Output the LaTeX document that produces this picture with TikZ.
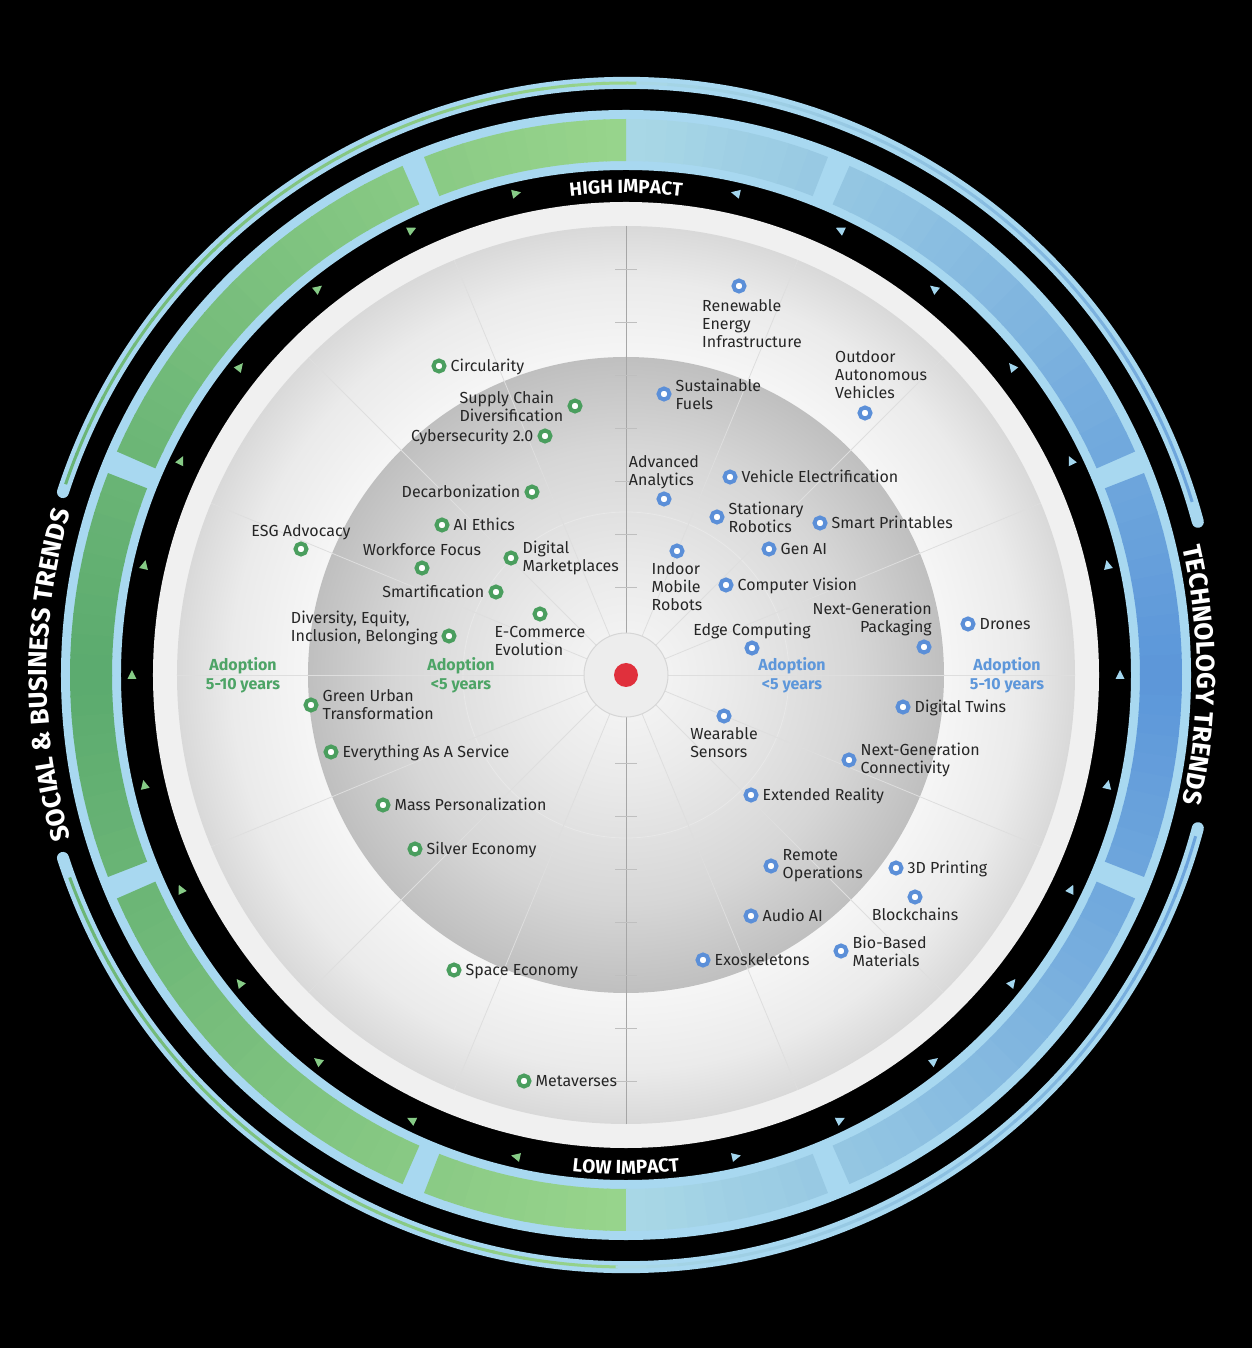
\documentclass[tikz,border=0pt]{standalone}
\usepackage{fontspec}
\setmainfont{Fira Sans}
\usetikzlibrary{positioning,decorations.text}

\definecolor{dkgreen}{HTML}{5BAA6E}
\definecolor{ltgreen}{HTML}{98D48C}
\definecolor{dkblue}{HTML}{5B96D9}
\definecolor{ltblue}{HTML}{A9D8E6}
\definecolor{rim}{HTML}{A8D8F0}
\definecolor{markgreen}{HTML}{4A9E5E}
\definecolor{markblue}{HTML}{5B8FD8}
\definecolor{adgreen}{HTML}{4DA466}
\definecolor{adblue}{HTML}{5E97DA}
\definecolor{trigreen}{HTML}{86CB86}
\definecolor{triblue}{HTML}{A3D6EE}
\definecolor{hubred}{HTML}{E0303C}

\pgfdeclareradialshading{outerdisk}{\pgfpointorigin}{color(0bp)=(white); color(17bp)=(black!3); color(22bp)=(black!8); color(25bp)=(black!15); color(50bp)=(black!15)}
\pgfdeclareradialshading{innerdisk}{\pgfpointorigin}{color(0bp)=(black!3); color(8bp)=(black!8); color(18bp)=(black!16); color(25bp)=(black!25); color(50bp)=(black!25)}

\newcommand{\ringfont}{\bfseries\fontsize{19}{19}\selectfont}
\newcommand{\sidefont}{\bfseries\fontsize{26}{26}\selectfont}

% angle -> colour of the band
\newcommand{\bandcol}[1]{%
  \pgfmathsetmacro\bca{mod(#1+450,360)-90}%
  \ifdim\bca pt>90pt
    \pgfmathtruncatemacro\bct{100*(1-abs(\bca-180)/90)}%
    \colorlet{bandnow}{dkgreen!\bct!ltgreen}%
  \else
    \pgfmathtruncatemacro\bct{100*(1-abs(\bca)/90)}%
    \colorlet{bandnow}{dkblue!\bct!ltblue}%
  \fi}

\tikzset{
  tmark/.style={circle, draw=markblue, fill=white, line width=4pt,
    minimum size=11pt, inner sep=0pt},
  smark/.style={tmark, draw=markgreen},
  lbl/.style={font=\fontsize{16}{18}\selectfont, text=black!85,
    inner sep=0pt, text height=13pt, text depth=2pt},
  lblm/.style={font=\fontsize{16}{18}\selectfont, text=black!85,
    inner sep=0pt, align=left},
  adopt/.style={font=\bfseries\fontsize{16}{19}\selectfont,
    inner sep=0pt, align=center},
  ringtext/.style={decorate, decoration={text along path,
    text align=center, text color=white, text={#1}}},
}

\begin{document}
\begin{tikzpicture}[x=1pt, y=1pt]
  \useasboundingbox (-626,-673) rectangle (626,675);
  \fill[black] (-626,-673) rectangle (626,675);

  % outer thin rings
  \draw[rim, line width=12pt, line cap=round] (15:592) arc[start angle=15, end angle=162, radius=592];
  \draw[rim, line width=12pt, line cap=round] (198:592) arc[start angle=198, end angle=345, radius=592];
  \foreach \a in {17,20,...,158}{
    \pgfmathsetmacro\ae{\a+3.2}
    \bandcol{\a+1.5}
    \draw[bandnow, line width=3pt] (\a:592) arc[start angle=\a, end angle=\ae, radius=592];
  }
  \foreach \a in {200,203,...,341}{
    \pgfmathsetmacro\ae{\a+3.2}
    \bandcol{\a+1.5}
    \draw[bandnow, line width=3pt] (\a:592) arc[start angle=\a, end angle=\ae, radius=592];
  }

  % segmented band
  \fill[rim, even odd rule] (0,0) circle (565) (0,0) circle (505);
  \foreach \c in {0,45,...,315}{
    \foreach \j in {0,...,19}{
      \pgfmathsetmacro\aa{\c-21.3+\j*2.13}
      \pgfmathsetmacro\ab{min(\aa+2.28,\c+21.3)}
      \bandcol{\aa+1.07}
      \fill[bandnow] (\aa:514) arc[start angle=\aa, end angle=\ab, radius=514]
        -- (\ab:556) arc[start angle=\ab, end angle=\aa, radius=556] -- cycle;
    }
  }

  % flow markers
  \foreach \k in {1,...,13}{
    \pgfmathsetmacro\ta{90+\k*360/28}
    \fill[trigreen, shift={(\ta:494)}, rotate=\ta-90] (5,0) -- (-4,4.5) -- (-4,-4.5) -- cycle;
    \pgfmathsetmacro\tb{90-\k*360/28}
    \fill[triblue, shift={(\tb:494)}, rotate=\tb+90] (5,0) -- (-4,4.5) -- (-4,-4.5) -- cycle;
  }

  % disks
  \fill[black!6] (0,0) circle (473);
  \shade[shading=outerdisk] (0,0) circle (449);
  \shade[shading=innerdisk] (0,0) circle (318);
  \draw[black!9, line width=0.8pt] (0,0) circle (163);
  \foreach \a in {0,22.5,...,337.5}
    \draw[black!13, line width=0.8pt] (\a:42) -- (\a:449);
  \draw[black!35, line width=0.9pt] (90:42) -- (90:449) (270:42) -- (270:449);
  \foreach \r in {88,141,...,406}
    \draw[black!25, line width=0.8pt] (-11,\r) -- (11,\r) (-11,-\r) -- (11,-\r);

  % hub
  \node[circle, fill=black!7, draw=black!16, line width=1pt, minimum size=84pt, inner sep=0pt] (hub) at (0,0) {};
  \node[circle, fill=hubred, minimum size=24pt, inner sep=0pt] (core) at (hub) {};

  % technology trends
  \node[tmark] (m-rei) at (113,389) {};
  \node[lblm, anchor=north west] (t-rei) at (76,376) {Renewable\\Energy\\Infrastructure};
  \node[tmark] (m-oav) at (239,262) {};
  \node[lblm, anchor=north west] (t-oav) at (209,325) {Outdoor\\Autonomous\\Vehicles};
  \node[tmark] (m-sf) at (38,281) {};
  \node[lblm, right=4pt of m-sf] (t-sf) {Sustainable\\Fuels};
  \node[tmark] (m-aa) at (38,176) {};
  \node[lblm, above=2.5pt of m-aa] (t-aa) {Advanced\\Analytics};
  \node[tmark] (m-ve) at (104,198) {};
  \node[lbl, right=4pt of m-ve] (t-ve) {Vehicle Electrification};
  \node[tmark] (m-sr) at (91,158) {};
  \node[lblm, right=4pt of m-sr] (t-sr) {Stationary\\Robotics};
  \node[tmark] (m-spr) at (194,152) {};
  \node[lbl, right=4pt of m-spr] (t-spr) {Smart Printables};
  \node[tmark] (m-gai) at (143,126) {};
  \node[lbl, right=4pt of m-gai] (t-gai) {Gen AI};
  \node[tmark] (m-imr) at (51,124) {};
  \node[lblm, below=4pt of m-imr] (t-imr) {Indoor\\Mobile\\Robots};
  \node[tmark] (m-cv) at (100,90) {};
  \node[lbl, right=4pt of m-cv] (t-cv) {Computer Vision};
  \node[tmark] (m-ngp) at (298,28) {};
  \node[lblm, align=right, anchor=north east] (t-ngp) at (306,73.5) {Next-Generation\\Packaging};
  \node[tmark] (m-dr) at (342,51) {};
  \node[lbl, right=4pt of m-dr] (t-dr) {Drones};
  \node[tmark] (m-ec) at (126,27) {};
  \node[lbl, above=3pt of m-ec] (t-ec) {Edge Computing};
  \node[tmark] (m-dt) at (277,-32) {};
  \node[lbl, right=4pt of m-dt] (t-dt) {Digital Twins};
  \node[tmark] (m-ws) at (98,-41) {};
  \node[lblm, below=4pt of m-ws] (t-ws) {Wearable\\Sensors};
  \node[tmark] (m-ngc) at (223,-85) {};
  \node[lblm, right=4pt of m-ngc] (t-ngc) {Next-Generation\\Connectivity};
  \node[tmark] (m-er) at (125,-120) {};
  \node[lbl, right=4pt of m-er] (t-er) {Extended Reality};
  \node[tmark] (m-ro) at (145,-191) {};
  \node[lblm, right=4pt of m-ro] (t-ro) {Remote\\Operations};
  \node[tmark] (m-3dp) at (270,-193) {};
  \node[lbl, right=4pt of m-3dp] (t-3dp) {3D Printing};
  \node[tmark] (m-bc) at (289,-222) {};
  \node[lbl, below=3pt of m-bc] (t-bc) {Blockchains};
  \node[tmark] (m-aai) at (125,-241) {};
  \node[lbl, right=4pt of m-aai] (t-aai) {Audio AI};
  \node[tmark] (m-bbm) at (215,-276) {};
  \node[lblm, right=4pt of m-bbm] (t-bbm) {Bio-Based\\Materials};
  \node[tmark] (m-exo) at (77,-285) {};
  \node[lbl, right=4pt of m-exo] (t-exo) {Exoskeletons};

  % social & business trends
  \node[smark] (m-circ) at (-187,309) {};
  \node[lbl, right=4pt of m-circ] (t-circ) {Circularity};
  \node[smark] (m-scd) at (-51,269) {};
  \node[lblm, left=4pt of m-scd] (t-scd) {Supply Chain\\Diversification};
  \node[smark] (m-cyb) at (-81,239) {};
  \node[lbl, left=4pt of m-cyb] (t-cyb) {Cybersecurity 2.0};
  \node[smark] (m-dec) at (-94,183) {};
  \node[lbl, left=4pt of m-dec] (t-dec) {Decarbonization};
  \node[smark] (m-aie) at (-184,150) {};
  \node[lbl, right=4pt of m-aie] (t-aie) {AI Ethics};
  \node[smark] (m-esg) at (-325,126) {};
  \node[lbl, above=3pt of m-esg] (t-esg) {ESG Advocacy};
  \node[smark] (m-wf) at (-204,107) {};
  \node[lbl, above=3pt of m-wf] (t-wf) {Workforce Focus};
  \node[smark] (m-dm) at (-115,117) {};
  \node[lblm, right=4pt of m-dm] (t-dm) {Digital\\Marketplaces};
  \node[smark] (m-sm) at (-130,83) {};
  \node[lbl, left=4pt of m-sm] (t-sm) {Smartification};
  \node[smark] (m-dei) at (-177,39) {};
  \node[lblm, anchor=north east] (t-dei) at (-188,64.5) {Diversity, Equity,\\Inclusion, Belonging};
  \node[smark] (m-eco) at (-86,61) {};
  \node[lblm, below=5pt of m-eco] (t-eco) {E-Commerce\\Evolution};
  \node[smark] (m-gut) at (-315,-30) {};
  \node[lblm, right=4pt of m-gut] (t-gut) {Green Urban\\Transformation};
  \node[smark] (m-eaas) at (-295,-77) {};
  \node[lbl, right=4pt of m-eaas] (t-eaas) {Everything As A Service};
  \node[smark] (m-mp) at (-243,-130) {};
  \node[lbl, right=4pt of m-mp] (t-mp) {Mass Personalization};
  \node[smark] (m-se) at (-211,-174) {};
  \node[lbl, right=4pt of m-se] (t-se) {Silver Economy};
  \node[smark] (m-spe) at (-172,-295) {};
  \node[lbl, right=4pt of m-spe] (t-spe) {Space Economy};
  \node[smark] (m-mv) at (-102,-406) {};
  \node[lbl, right=4pt of m-mv] (t-mv) {Metaverses};

  % adoption rings
  \node[adopt, text=adgreen] (ad-gfar) at (-383,0) {Adoption\\5-10 years};
  \node[adopt, text=adgreen] (ad-gnear) at (-165,0) {Adoption\\<5 years};
  \node[adopt, text=adblue] (ad-bnear) at (166,0) {Adoption\\<5 years};
  \node[adopt, text=adblue] (ad-bfar) at (381,0) {Adoption\\5-10 years};

  % ring titles
  \path[ringtext={|\ringfont|HIGH IMPACT}] (100:482) arc[start angle=100, end angle=80, radius=482];
  \path[ringtext={|\ringfont|LOW IMPACT}] (260:499) arc[start angle=260, end angle=280, radius=499];
  \path[ringtext={|\sidefont|SOCIAL {\&} BUSINESS TRENDS}] (200:579) arc[start angle=200, end angle=160, radius=579];
  \path[ringtext={|\sidefont|TECHNOLOGY TRENDS}] (16:571) arc[start angle=16, end angle=-16, radius=571];
\end{tikzpicture}
\end{document}
